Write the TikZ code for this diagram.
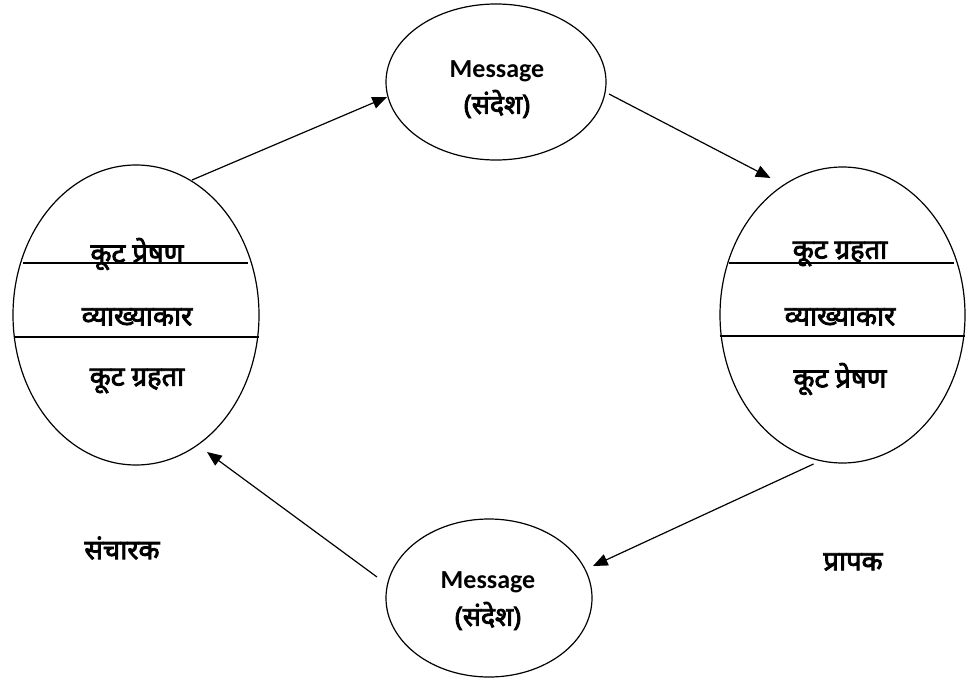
\documentclass[tikz,border=0pt]{standalone}
\usepackage{fontspec}
\usetikzlibrary{shapes.geometric,arrows.meta,calc}
\newfontfamily\dev[Script=Devanagari,FakeBold=3]{Noto Sans}
\newfontfamily\lat{Carlito}
\tikzset{
  oval/.style={ellipse,draw,line width=0.9pt,inner sep=0pt},
  lbl/.style={font=\dev\fontsize{20.5}{24}\selectfont,inner sep=0pt},
  msg/.style={font=\lat\bfseries\fontsize{19.5}{23}\selectfont,inner sep=0pt},
  msgdev/.style={font=\dev\fontsize{20}{23}\selectfont,inner sep=0pt},
  divider/.style={line width=0.9pt},
  flow/.style={line width=0.9pt,-{Triangle[length=11pt,width=9pt]}}
}
\begin{document}
\begin{tikzpicture}[x=0.75pt,y=-0.75pt]
\useasboundingbox[fill=white] (0,0) rectangle (966,681);
% ellipses
\node[oval,minimum width=246*0.75pt,minimum height=300*0.75pt] (L) at (136,315) {};
\node[oval,minimum width=245*0.75pt,minimum height=296*0.75pt] (R) at (842.5,315) {};
\node[oval,minimum width=220*0.75pt,minimum height=156*0.75pt] (T) at (496,82) {};
\node[oval,minimum width=206*0.75pt,minimum height=158*0.75pt] (B) at (489,598) {};
% message texts
\node[msg] (T1) at (497,71) {Message};
\node[msg] (B1) at (488,582) {Message};
% dividers
\draw[divider] ($(L.center)+(-113,-52)$) -- ($(L.center)+(112,-52)$);
\draw[divider] ($(L.center)+(-122,22)$) -- ($(L.center)+(123,22)$);
\draw[divider] ($(R.center)+(-114,-52)$) -- ($(R.center)+(111,-52)$);
\draw[divider] ($(R.center)+(-123,21)$) -- ($(R.center)+(122,21)$);
% texts in side ellipses
\node[lbl] (L1) at (137,254) {कूट प्रेषण};
\node[lbl] (L2) at (137,317) {व्याख्याकार};
\node[lbl] (L3) at (137,381) {कूट ग्रहता};
\node[lbl] (R1) at (840,254) {कूट ग्रहता};
\node[lbl] (R2) at (840,317) {व्याख्याकार};
\node[lbl] (R3) at (840,379) {कूट प्रेषण};
\node[msgdev] (T2) at (497,104) {(संदेश)};
\node[msgdev] (B2) at (488,616) {(संदेश)};
% side labels
\node[lbl] (S) at (122,548) {संचारक};
\node[lbl] (P) at (853,562) {प्रापक};
% arrows
\draw[flow] ($(L.center)+(56,-135)$) -- ($(T.center)+(-109,15)$);
\draw[flow] ($(T.center)+(113,12)$) -- ($(R.center)+(-72,-137)$);
\draw[flow] ($(R.center)+(-29,149)$) -- ($(B.center)+(104,-32)$);
\draw[flow] ($(B.center)+(-112,-21)$) -- ($(L.center)+(71,137)$);
\end{tikzpicture}
\end{document}
